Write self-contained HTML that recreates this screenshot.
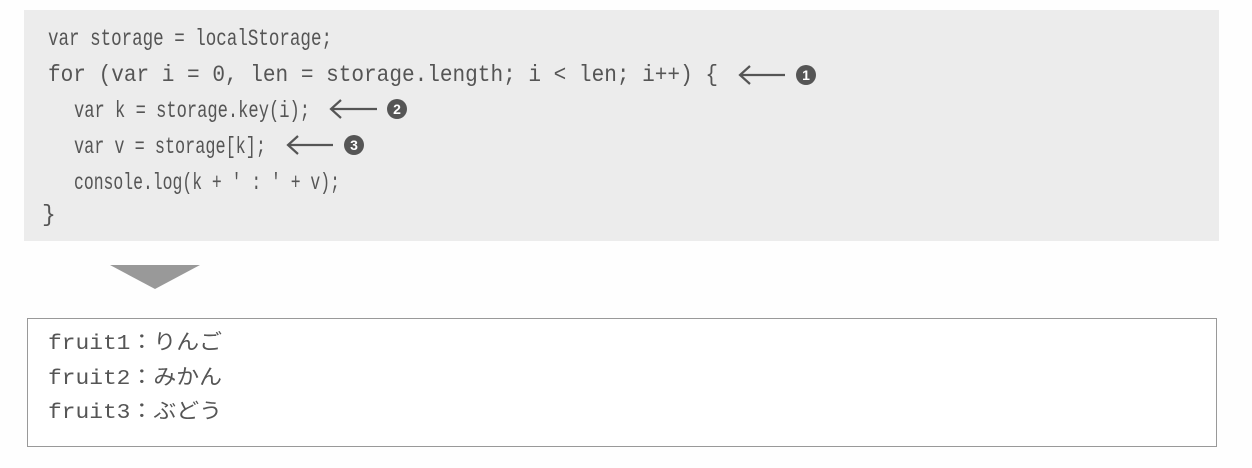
<!DOCTYPE html>
<html><head><meta charset="utf-8"><style>
html,body{margin:0;padding:0;background:#fff;width:1252px;height:468px;overflow:hidden}
</style></head><body>
<svg width="1252" height="468" xmlns="http://www.w3.org/2000/svg">
<rect x="0" y="0" width="1252" height="468" fill="#fefefe"/>
<rect x="24" y="10" width="1195" height="231" fill="#ececec"/>
<g font-family="Liberation Mono, monospace" font-size="23" fill="#555">
<text x="48" y="45" textLength="284" lengthAdjust="spacingAndGlyphs">var storage = localStorage;</text>
<text x="48" y="81" textLength="670" lengthAdjust="spacingAndGlyphs">for (var i = 0, len = storage.length; i &lt; len; i++) {</text>
<text x="74" y="117" textLength="236" lengthAdjust="spacingAndGlyphs">var k = storage.key(i);</text>
<text x="74" y="153" textLength="192" lengthAdjust="spacingAndGlyphs">var v = storage[k];</text>
<text x="74" y="189" textLength="266" lengthAdjust="spacingAndGlyphs">console.log(k + ' : ' + v);</text>
<text x="42" y="221">}</text>
</g>
<g stroke="#555" stroke-width="2.2" fill="none">
<path d="M740 75 H785 M750 66 L740 75 L750 84"/>
<path d="M331 109 H377 M341 100 L331 109 L341 118"/>
<path d="M288 145 H333 M298 136 L288 145 L298 154"/>
</g>
<g fill="#555"><circle cx="806" cy="75" r="10"/><circle cx="397" cy="109" r="10"/><circle cx="354" cy="145" r="10"/></g>
<g fill="#fff" font-family="Liberation Sans, sans-serif" font-weight="bold" font-size="14" text-anchor="middle">
<text x="806" y="80">1</text><text x="397" y="114">2</text><text x="354" y="150">3</text></g>
<polygon points="110,265 200,265 155,289" fill="#999"/>
<rect x="27.5" y="318.5" width="1189" height="128" fill="#fff" stroke="#999" stroke-width="1"/>
<g font-family="Liberation Mono, 'Noto Sans CJK JP', monospace" font-size="21" fill="#555">
<text x="48" y="349" textLength="174" lengthAdjust="spacingAndGlyphs">fruit1：りんご</text>
<text x="48" y="384" textLength="174" lengthAdjust="spacingAndGlyphs">fruit2：みかん</text>
<text x="48" y="418" textLength="174" lengthAdjust="spacingAndGlyphs">fruit3：ぶどう</text>
</g>
</svg>
</body></html>
